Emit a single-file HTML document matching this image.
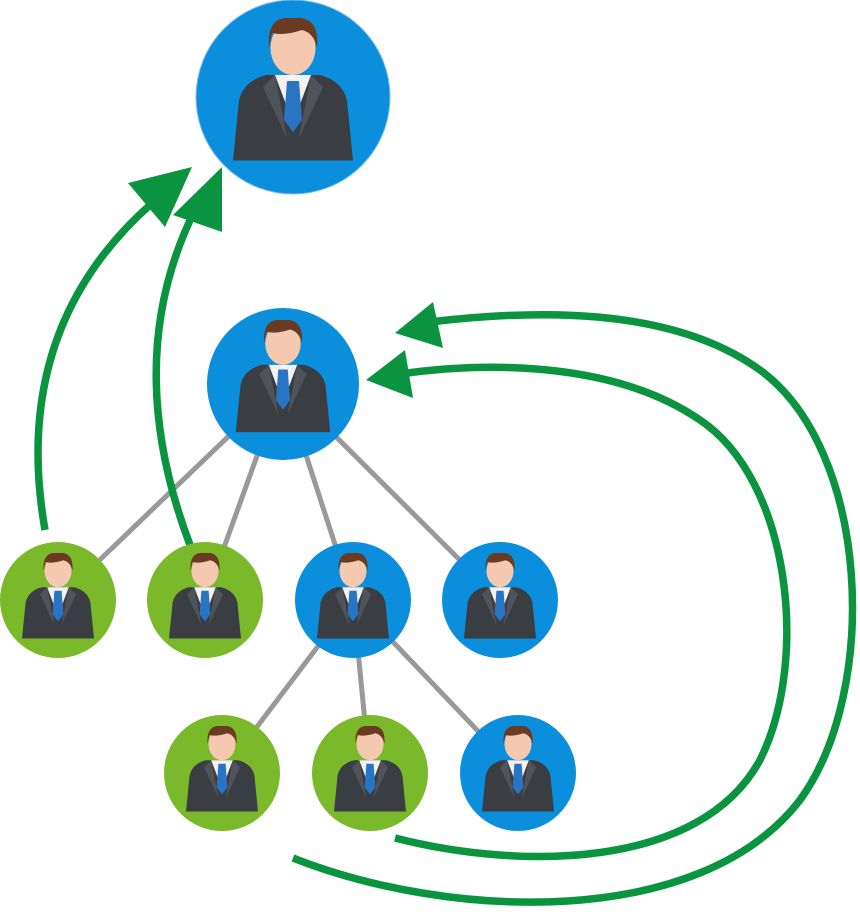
<!DOCTYPE html>
<html><head><style>body{margin:0;background:#fff}svg{display:block}</style></head>
<body>
<svg width="860" height="918" viewBox="0 0 860 918" xmlns="http://www.w3.org/2000/svg">
<defs>
<symbol id="p" viewBox="-50 -50 100 100">
<path d="M-40 45 L-36 5 Q-33 -8 -18 -12 L18 -12 Q33 -8 36 5 L40 45 Z" fill="#3a3d42"/>
<path d="M-12 -12 L0 20 L12 -12 Z" fill="#f2f2f2"/>
<path d="M-4 -8 L4 -8 L6 18 L0 26 L-6 18 Z" fill="#2a74c4"/>
<path d="M-12 -12 L-4 30 L-20 -4 Z M12 -12 L4 30 L20 -4 Z" fill="#50545a"/>
<ellipse cx="0" cy="-30" rx="15" ry="18" fill="#f4c9b0"/>
<path d="M-16 -30 Q-18 -52 0 -50 Q18 -52 16 -30 Q14 -40 6 -42 Q-6 -38 -14 -40 Z" fill="#6b3a22"/>
</symbol>
</defs>
<g stroke="#999" stroke-width="5">
<line x1="283" y1="384" x2="58" y2="600"/><line x1="283" y1="384" x2="205" y2="600"/>
<line x1="283" y1="384" x2="353" y2="600"/><line x1="283" y1="384" x2="500" y2="600"/>
<line x1="353" y1="600" x2="222" y2="773"/><line x1="353" y1="600" x2="370" y2="773"/>
<line x1="353" y1="600" x2="518" y2="773"/>
</g>
<g fill="none" stroke="#0a9440" stroke-width="7.5">
<path d="M45 530 Q10 330 150 205"/>
<path d="M190 545 Q120 360 195 210"/>
<path d="M293 858 C450 920 700 930 800 800 C880 690 870 450 760 370 C670 305 530 310 430 322"/>
<path d="M395 838 C520 870 700 870 760 760 C810 660 790 480 700 420 C620 365 500 360 400 374"/>
</g>
<g fill="#0a9440">
<polygon points="128,183 192,167 165,227"/>
<polygon points="173,215 222,167 222,232"/>
<polygon points="395,333 433,302 443,348"/>
<polygon points="366,380 405,350 413,398"/>
</g>
<circle cx="293" cy="97" r="97" fill="#0b8fdc" stroke="#7fbbe6" stroke-width="1"/>
<use href="#p" x="218" y="18" width="150" height="150"/>
<circle cx="283" cy="384" r="76" fill="#0b8fdc"/>
<use href="#p" x="224" y="320" width="118" height="118"/>
<g fill="#7ab929"><circle cx="58" cy="600" r="58"/><circle cx="205" cy="600" r="58"/><circle cx="222" cy="773" r="58"/><circle cx="370" cy="773" r="58"/></g>
<g fill="#0b8fdc"><circle cx="353" cy="600" r="58"/><circle cx="500" cy="600" r="58"/><circle cx="518" cy="773" r="58"/></g>
<use href="#p" x="13" y="553" width="90" height="90"/>
<use href="#p" x="160" y="553" width="90" height="90"/>
<use href="#p" x="308" y="553" width="90" height="90"/>
<use href="#p" x="455" y="553" width="90" height="90"/>
<use href="#p" x="177" y="726" width="90" height="90"/>
<use href="#p" x="325" y="726" width="90" height="90"/>
<use href="#p" x="473" y="726" width="90" height="90"/>
</svg>
</body></html>
